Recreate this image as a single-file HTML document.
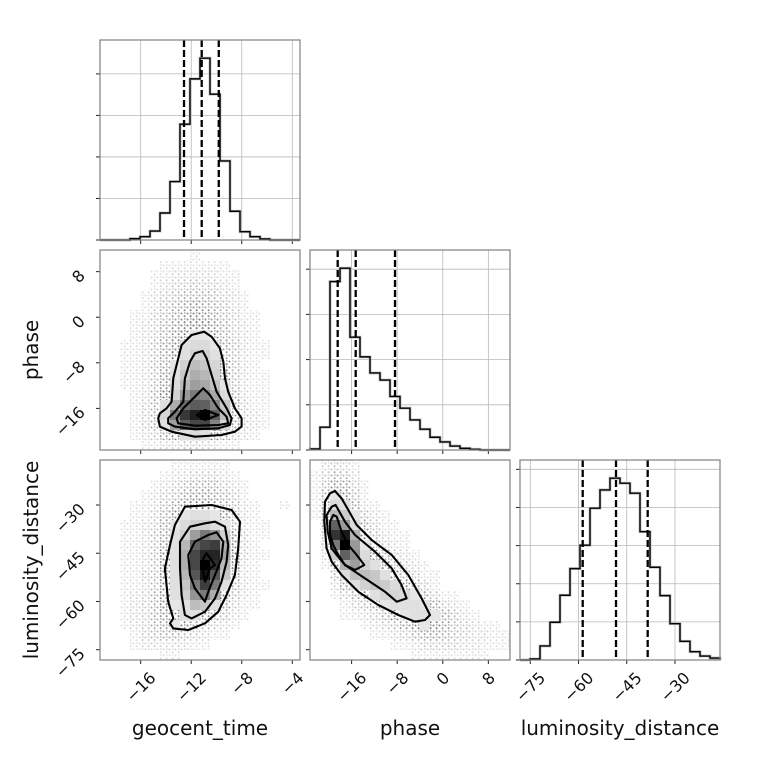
<!DOCTYPE html>
<html><head><meta charset="utf-8"><style>
html,body{margin:0;padding:0;background:#fff;}
svg{display:block;font-family:"DejaVu Sans","Liberation Sans",sans-serif;}
</style></head><body>
<svg id="chart" width="760" height="760" viewBox="0 0 760 760" xmlns="http://www.w3.org/2000/svg">
<defs>
<pattern id="dots" width="6" height="6" patternUnits="userSpaceOnUse">
<circle cx="1.5" cy="1.5" r="1.05" fill="#777"/><circle cx="4.6" cy="4.2" r="1.05" fill="#777"/><circle cx="4.8" cy="0.9" r="0.8" fill="#888"/>
</pattern>
</defs>
<g id="layer"></g>
</svg>
<script>
// ---- data ----
const geoLim=[-19.22,-3.39];
const phaseLim=[-23.3,11.8];
const lumLim=[-78.2,-16.0];
const geoTicks=[-16,-12,-8,-4];
const phaseTicks=[-16,-8,0,8];
const lumTicks=[-75,-60,-45,-30];
const histTicks1=[0,500,1000,1500,2000];
const histTicks2=[0,500,1000,1500,2000];
const histTicks3=[0,500,1000,1500,2000,2500];
const geoHist=[0,0,0,16,40,108,325,703,1394,1940,2189,1756,952,346,100,40,12,0,0,0];
const phaseHist=[11,252,1863,2011,1248,1030,852,774,592,463,333,230,141,89,44,19,8,0,0,0];
const lumHist=[0,13,184,495,849,1198,1505,1990,2230,2384,2318,2187,1683,1216,844,476,245,109,52,26];
const geoQuant=[-12.57,-11.17,-9.82];
const phaseQuant=[-18.44,-15.28,-8.38];
const lumQuant=[-58.7,-48.34,-38.49];
const gridGeoPhase=[
[0,0,0,0,0,0,0,0,0,1,0,0,0,0,0,0,0,0,0,0],
[0,0,0,0,0,0,1,1,1,1,1,1,1,0,0,0,0,0,0,0],
[0,0,0,0,0,1,1,2,2,2,2,2,1,1,0,0,0,0,0,0],
[0,0,0,0,0,1,2,3,3,4,3,3,2,1,0,0,0,0,0,0],
[0,0,0,0,1,2,3,4,5,5,5,4,3,2,1,0,0,0,0,0],
[0,0,0,0,1,2,4,5,6,7,6,5,4,2,1,0,0,0,0,0],
[0,0,0,1,1,3,4,6,7,8,7,6,4,3,1,1,0,0,0,0],
[0,0,0,1,2,3,5,7,8,9,9,7,5,3,2,1,0,0,0,0],
[0,0,0,1,2,3,5,7,9,10,10,8,5,3,2,1,0,0,0,0],
[0,0,1,1,2,4,6,8,12,14,14,10,6,4,2,1,1,0,0,0],
[0,0,1,1,2,4,6,9,12,18,18,12,6,4,2,1,1,0,0,0],
[0,0,1,1,2,4,6,10,18,26,22,16,8,4,2,1,0,0,0,0],
[0,0,1,1,2,4,7,12,22,32,28,18,9,4,2,1,1,0,0,0],
[0,0,1,1,2,4,7,14,28,38,34,24,10,4,2,1,1,0,0,0],
[0,0,0,1,2,5,9,18,40,52,48,34,14,5,2,1,1,0,0,0],
[0,0,0,1,3,5,12,32,58,64,62,48,22,6,3,1,1,0,0,0],
[0,0,0,1,3,5,16,52,78,88,100,62,26,7,3,2,1,0,0,0],
[0,0,0,1,3,5,12,38,62,72,72,48,16,6,3,2,1,0,0,0],
[0,0,0,1,2,3,6,8,12,14,12,8,6,3,2,1,0,0,0,0],
[0,0,0,0,1,1,2,2,3,3,2,2,1,1,0,0,0,0,0,0]];
const gridGeoLum=[
[0,0,0,0,0,0,0,1,1,1,1,1,1,0,0,0,0,0,0,0],
[0,0,0,0,0,0,1,2,2,3,3,3,2,1,0,0,0,0,0,0],
[0,0,0,0,0,1,2,3,4,5,5,5,3,2,1,0,0,0,0,0],
[0,0,0,0,1,2,3,4,6,7,7,6,5,3,1,0,0,0,0,0],
[0,0,0,1,1,2,4,6,8,9,9,8,6,4,2,1,0,0,1,0],
[0,0,0,1,1,3,5,8,10,12,12,10,8,4,2,1,0,0,0,0],
[0,0,1,1,2,3,6,10,14,18,18,14,10,5,2,1,1,0,0,0],
[0,0,1,1,2,4,6,12,18,38,52,42,18,8,3,1,1,0,0,0],
[0,0,1,1,2,4,7,12,28,62,72,76,32,8,3,1,0,0,0,0],
[0,0,1,1,2,4,8,12,32,72,86,86,36,9,3,1,1,0,0,0],
[0,0,1,1,2,4,8,12,32,72,100,82,28,8,2,1,0,0,0,0],
[0,0,1,1,3,4,8,12,28,66,92,66,22,6,2,1,0,0,0,0],
[0,0,1,1,2,4,8,12,22,52,76,52,12,5,2,1,1,0,0,0],
[0,0,1,2,3,5,8,12,18,42,52,32,9,4,2,1,0,0,0,0],
[0,0,1,2,3,5,8,10,12,26,22,12,6,3,1,1,0,0,0,0],
[0,0,1,2,3,5,7,8,12,12,8,6,4,2,1,0,0,0,0,0],
[0,0,1,2,3,5,6,10,8,6,4,3,2,1,0,0,0,0,0,0],
[0,0,0,1,3,4,5,5,4,3,2,1,1,0,0,0,0,0,0,0],
[0,0,0,1,2,2,2,2,2,1,1,0,0,0,0,0,0,0,0,0],
[0,0,0,0,0,0,1,1,0,0,0,0,0,0,0,0,0,0,0,0]];
const gridPhaseLum=[
[0,2,3,2,1,0,0,0,0,0,0,0,0,0,0,0,0,0,0,0],
[1,3,5,4,2,0,0,0,0,0,0,0,0,0,0,0,0,0,0,0],
[1,4,7,6,3,1,0,0,0,0,0,0,0,0,0,0,0,0,0,0],
[1,5,10,8,4,1,0,0,0,0,0,0,0,0,0,0,0,0,0,0],
[1,6,14,12,6,2,1,0,0,0,0,0,0,0,0,0,0,0,0,0],
[1,6,28,20,10,4,2,1,0,0,0,0,0,0,0,0,0,0,0,0],
[0,5,62,40,14,6,3,1,1,0,0,0,0,0,0,0,0,0,0,0],
[0,4,80,90,30,8,4,2,1,1,0,0,0,0,0,0,0,0,0,0],
[0,3,52,100,40,10,5,3,2,1,0,0,0,0,0,0,0,0,0,0],
[0,2,20,62,44,14,8,5,3,2,1,0,0,0,0,0,0,0,0,0],
[0,1,8,30,38,18,12,8,5,3,2,1,0,0,0,0,0,0,0,0],
[0,0,4,14,24,26,22,12,8,5,3,1,1,0,0,0,0,0,0,0],
[0,0,2,6,12,18,22,20,14,8,5,3,1,0,0,0,0,0,0,0],
[0,0,1,3,5,8,12,16,16,14,10,6,3,1,1,0,0,0,0,0],
[0,0,0,1,3,4,6,10,12,12,12,10,6,3,2,1,0,0,0,0],
[0,0,0,1,1,2,3,5,8,10,12,12,10,6,4,2,1,0,0,0],
[0,0,0,0,0,1,2,3,4,6,8,10,8,6,4,3,2,1,1,0],
[0,0,0,0,0,0,1,1,2,3,5,6,6,5,4,3,2,2,1,1],
[0,0,0,0,0,0,0,0,1,1,2,3,3,3,3,2,2,1,1,1],
[0,0,0,0,0,0,0,0,0,0,1,1,1,1,1,1,1,1,0,0]];
const contGeoPhase=[
[[-14.61,-17.74],[-14.48,-16.86],[-13.95,-15.99],[-13.55,-14.82],[-13.42,-10.72],[-13.16,-8.38],[-12.76,-4.87],[-11.97,-3.12],[-10.97,-2.53],[-10.39,-3.41],[-9.73,-5.46],[-9.46,-7.80],[-9.33,-10.72],[-9.07,-13.06],[-8.54,-15.99],[-8.01,-17.74],[-8.01,-19.20],[-8.54,-20.08],[-9.60,-20.67],[-11.71,-20.96],[-13.55,-20.08],[-14.48,-19.20]],
[[-13.82,-17.74],[-13.29,-16.57],[-12.63,-14.82],[-12.50,-10.72],[-12.10,-7.80],[-11.71,-6.33],[-11.10,-5.92],[-10.78,-7.21],[-10.39,-10.14],[-9.99,-13.06],[-9.20,-15.99],[-8.80,-17.74],[-8.94,-18.91],[-9.86,-19.50],[-11.71,-19.67],[-13.29,-19.20],[-13.82,-18.62]],
[[-13.16,-17.74],[-12.63,-15.99],[-11.71,-13.94],[-11.05,-12.48],[-10.52,-13.65],[-9.86,-15.99],[-9.20,-17.45],[-9.07,-18.62],[-9.86,-18.91],[-11.71,-19.03],[-13.03,-18.62]],
[[-11.57,-17.16],[-10.91,-16.28],[-9.86,-17.16],[-10.91,-18.03]]];
const contGeoLum=[
[[-13.29,-36.22],[-12.50,-30.52],[-10.39,-30.00],[-8.80,-31.56],[-8.14,-35.18],[-8.28,-43.48],[-8.54,-51.77],[-9.20,-57.99],[-9.86,-63.17],[-10.91,-66.80],[-12.23,-68.88],[-13.42,-68.36],[-13.68,-66.80],[-13.42,-65.25],[-13.82,-60.06],[-14.08,-49.70],[-13.68,-42.44]],
[[-12.89,-41.40],[-12.10,-36.74],[-10.91,-35.70],[-10.12,-35.18],[-9.33,-36.74],[-9.07,-42.44],[-9.20,-47.62],[-9.60,-53.84],[-10.12,-59.03],[-10.91,-63.17],[-11.97,-65.25],[-12.50,-64.21],[-12.76,-57.99],[-12.89,-49.70]],
[[-12.23,-45.55],[-11.71,-41.40],[-10.65,-39.33],[-9.99,-38.50],[-9.46,-41.40],[-9.60,-46.59],[-10.12,-51.77],[-10.65,-56.95],[-10.91,-60.06],[-11.71,-55.92],[-12.10,-51.77]],
[[-11.05,-46.59],[-10.78,-45.03],[-10.12,-48.66],[-10.52,-49.70],[-10.91,-53.84],[-11.05,-50.73]]];
const contPhaseLum=[
[[-20.67,-28.96],[-19.79,-26.37],[-18.92,-25.65],[-17.75,-27.93],[-16.58,-31.56],[-15.11,-36.22],[-12.48,-40.89],[-8.97,-45.55],[-6.05,-51.77],[-3.71,-59.03],[-2.24,-64.21],[-3.12,-65.77],[-4.88,-66.29],[-7.80,-64.21],[-11.31,-61.10],[-14.82,-56.95],[-17.75,-51.77],[-19.50,-47.62],[-20.38,-43.48],[-20.79,-35.18]],
[[-20.38,-33.11],[-19.50,-30.52],[-18.80,-30.00],[-17.16,-35.18],[-15.41,-39.33],[-11.90,-44.51],[-8.97,-49.70],[-7.22,-54.88],[-6.34,-59.03],[-8.09,-60.06],[-10.14,-56.95],[-13.65,-52.81],[-17.16,-48.66],[-18.62,-45.55],[-19.50,-43.48],[-20.20,-38.29]],
[[-19.79,-35.18],[-19.21,-33.11],[-18.62,-33.63],[-17.75,-38.29],[-16.58,-42.44],[-15.11,-45.55],[-13.77,-48.66],[-15.41,-50.22],[-17.16,-48.66],[-18.33,-45.55],[-19.21,-42.44],[-19.79,-39.33]]];

// ---- layout ----
const NS='http://www.w3.org/2000/svg';
const X0=[100,310,520], Y0=[40,250,460], S=200;
const root=document.getElementById('layer');
function mk(tag,attrs,parent){const e=document.createElementNS(NS,tag);for(const k in attrs)e.setAttribute(k,attrs[k]);(parent||root).appendChild(e);return e;}
function sx(lim,col,v){return X0[col]+(v-lim[0])/(lim[1]-lim[0])*S;}
function sy(lim,row,v){return Y0[row]+S-(v-lim[0])/(lim[1]-lim[0])*S;}

function frame(row,col,name){
  const r=mk('rect',{x:X0[col],y:Y0[row],width:S,height:S,fill:'none',stroke:'#808080','stroke-width':1.2});
  
  
}
function xticks(row,col,lim,ticks,grid,name){
  ticks.forEach(t=>{
    const x=sx(lim,col,t);
    if(grid){const g=mk('line',{x1:x,x2:x,y1:Y0[row],y2:Y0[row]+S,stroke:'#b8b8b8','stroke-width':0.8});
      
      }
    const l=mk('line',{x1:x,x2:x,y1:Y0[row]+S,y2:Y0[row]+S+4,stroke:'#222','stroke-width':1});
    
    
  });
}
function yticks(row,col,lim,ticks,grid,name){
  ticks.forEach(t=>{
    const y=sy(lim,row,t);
    if(grid){const g=mk('line',{x1:X0[col],x2:X0[col]+S,y1:y,y2:y,stroke:'#b8b8b8','stroke-width':0.8});
      
      }
    const l=mk('line',{x1:X0[col]-4,x2:X0[col],y1:y,y2:y,stroke:'#222','stroke-width':1});
    
    
  });
}
function fmt(t){return t<0?'\u2212'+Math.abs(t):String(t);}
function xlabels(col,lim,ticks,name){
  ticks.forEach(t=>{
    const x=sx(lim,col,t);
    const tx=mk('text',{'font-size':16,'text-anchor':'middle',dy:'0.36em',fill:'#111'});
    tx.textContent=fmt(t);
    
    
    const L=tx.getComputedTextLength();
    const cy=671+0.707*(L+11)/2;
    tx.setAttribute('transform','translate('+x+','+cy+') rotate(-45)');
  });
}
function ylabels(row,lim,ticks,name){
  ticks.forEach(t=>{
    const y=sy(lim,row,t);
    const tx=mk('text',{'font-size':16,'text-anchor':'end',fill:'#111',transform:'translate(86,'+(y+5)+') rotate(-45)'});
    tx.textContent=fmt(t);
    
    
  });
}
function hist(row,col,lim,counts,hticks,quant,name){
  const ymax=1.1*Math.max(...counts);
  const hl=[0,ymax];
  xticks(row,col,lim,col===0?geoTicks:col===1?phaseTicks:lumTicks,true,name);
  yticks(row,col,hl,hticks.filter(t=>t<=ymax),true,name);
  const n=counts.length, w=(lim[1]-lim[0])/n;
  let d='M'+sx(lim,col,lim[0])+' '+sy(hl,row,0);
  counts.forEach((c,i)=>{
    const y=sy(hl,row,c);
    d+=' L'+sx(lim,col,lim[0]+i*w)+' '+y+' L'+sx(lim,col,lim[0]+(i+1)*w)+' '+y;
  });
  d+=' L'+sx(lim,col,lim[1])+' '+sy(hl,row,0);
  const halo=mk('path',{d:d,fill:'none',stroke:'#bbb','stroke-width':2.8});
  
  
  const p=mk('path',{d:d,fill:'none',stroke:'#000','stroke-width':1.4});
  
  
  quant.forEach(q=>{
    const x=sx(lim,col,q);
    const l=mk('line',{x1:x,x2:x,y1:Y0[row],y2:Y0[row]+S,stroke:'#000','stroke-width':2.3,'stroke-dasharray':'7,3'});
    
    
  });
  frame(row,col,name);
}
function density(row,col,xl,yl,grid,conts,xt,yt,name){
  const nr=grid.length,nc=grid[0].length;
  const dx=(xl[1]-xl[0])/nc, dy=(yl[1]-yl[0])/nr;
  const g=mk('g',{});
  
  
  grid.forEach((rowv,r)=>rowv.forEach((v,c)=>{
    if(v<=0)return;
    const x1=sx(xl,col,xl[0]+c*dx), x2=sx(xl,col,xl[0]+(c+1)*dx);
    const y1=sy(yl,row,yl[1]-r*dy), y2=sy(yl,row,yl[1]-(r+1)*dy);
    let cell;
    if(v<10){
      cell=mk('rect',{x:x1,y:y1,width:x2-x1,height:y2-y1,fill:'url(#dots)',opacity:Math.min(1,0.15+v/9*0.85).toFixed(3)},g);
      
    }else{
      const lv=Math.round(255*(1-v/100));
      cell=mk('rect',{x:x1,y:y1,width:x2-x1+0.3,height:y2-y1+0.3,fill:'rgb('+lv+','+lv+','+lv+')'},g);
      
    }
    
  }));
  conts.forEach(ct=>{
    const d='M'+ct.map(p=>sx(xl,col,p[0]).toFixed(1)+' '+sy(yl,row,p[1]).toFixed(1)).join(' L')+' Z';
    const p=mk('path',{d:d,fill:'none',stroke:'#000','stroke-width':2.1,'stroke-linejoin':'round'});
    
    
  });
  xticks(row,col,xl,xt,false,name);
  yticks(row,col,yl,yt,false,name);
  frame(row,col,name);
}

hist(0,0,geoLim,geoHist,histTicks1,geoQuant,'geocent-time-hist');
hist(1,1,phaseLim,phaseHist,histTicks2,phaseQuant,'phase-hist');
hist(2,2,lumLim,lumHist,histTicks3,lumQuant,'luminosity-distance-hist');
density(1,0,geoLim,phaseLim,gridGeoPhase,contGeoPhase,geoTicks,phaseTicks,'geocent-vs-phase');
density(2,0,geoLim,lumLim,gridGeoLum,contGeoLum,geoTicks,lumTicks,'geocent-vs-luminosity');
density(2,1,phaseLim,lumLim,gridPhaseLum,contPhaseLum,phaseTicks,lumTicks,'phase-vs-luminosity');

xlabels(0,geoLim,geoTicks,'geocent-time');
xlabels(1,phaseLim,phaseTicks,'phase');
xlabels(2,lumLim,lumTicks,'luminosity-distance');
ylabels(1,phaseLim,phaseTicks,'phase');
ylabels(2,lumLim,lumTicks,'luminosity-distance');

function title(txt,x,y,rot,name){
  const t=mk('text',{'font-size':20,'text-anchor':'middle',fill:'#111',transform:'translate('+x+','+y+')'+(rot?' rotate(-90)':'')});
  t.textContent=txt;
  
  
}
title('geocent_time',200,735,false,'x-axis-title-geocent-time');
title('phase',410,735,false,'x-axis-title-phase');
title('luminosity_distance',620,735,false,'x-axis-title-luminosity-distance');
title('phase',38,350,true,'y-axis-title-phase');
title('luminosity_distance',38,560,true,'y-axis-title-luminosity-distance');
</script>
</body></html>
